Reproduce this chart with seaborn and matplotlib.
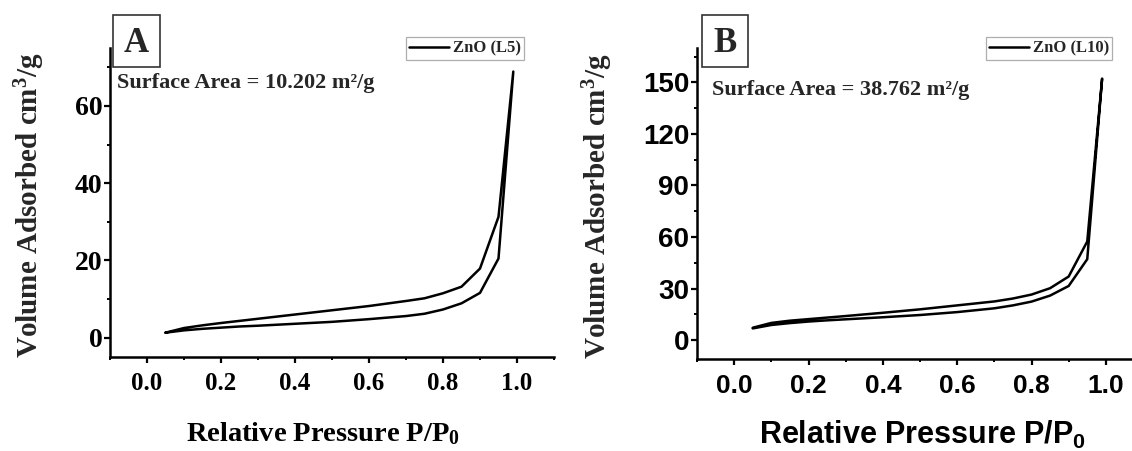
import matplotlib
matplotlib.use('Agg')
import matplotlib.pyplot as plt
import matplotlib.patches as patches
from matplotlib.ticker import MultipleLocator, FormatStrFormatter
import seaborn as sns
import pandas as pd

# relative pressure grid (adsorption up, desorption back down)
p_ads = [0.05, 0.1, 0.15, 0.2, 0.25, 0.3, 0.4, 0.5, 0.6, 0.7, 0.75, 0.8, 0.85, 0.9, 0.95, 0.99]
p_des = [0.99, 0.95, 0.9, 0.85, 0.8, 0.75, 0.7, 0.6, 0.5, 0.4, 0.3, 0.2, 0.15, 0.1, 0.05]

# ZnO (L5)
l5_ads = [1.3, 1.9, 2.3, 2.6, 2.9, 3.1, 3.6, 4.1, 4.8, 5.6, 6.2, 7.3, 8.9, 11.6, 20.5, 68.9]
l5_des = [68.9, 31.3, 17.9, 13.2, 11.5, 10.2, 9.5, 8.2, 7.1, 6.0, 4.9, 3.8, 3.2, 2.5, 1.3]

# ZnO (L10)
l10_ads = [6.8, 8.8, 9.9, 10.8, 11.5, 12.1, 13.3, 14.6, 16.3, 18.5, 20.2, 22.4, 25.9, 31.5, 47.1, 152.2]
l10_des = [152.2, 57.4, 37.0, 30.2, 26.5, 24.2, 22.5, 20.2, 17.9, 15.9, 14.0, 12.2, 11.3, 10.0, 7.2]

sns.set_theme(style='ticks')
plt.rcParams['mathtext.default'] = 'regular'

SERIF = 'Liberation Serif'
SANS = 'Liberation Sans'

fig = plt.figure(figsize=(11.32, 4.51), dpi=100)
W, H = 1132, 451


def px_axes(l, t, r, b):
    return fig.add_axes([l / W, 1 - b / H, (r - l) / W, (b - t) / H])


def loop(p1, v1, p2, v2):
    return pd.DataFrame({'p': p1 + p2, 'v': v1 + v2})


panels = [
    dict(df=loop(p_ads, l5_ads, p_des, l5_des), label='ZnO (L5)', box=(110, 48, 554, 357),
         ylim=(-5, 75), ymaj=20, ymin=10, tick_font=SERIF, xtick_size=18, ytick_size=20,
         xlab_font=SERIF, xlab_size=20.5, xlab_x=0.48, xlab_pad=18,
         letter='A', letter_box=(113, 15, 160, 67), area='Surface Area = 10.202 m²/g',
         area_xy=(117, 83), leg=(403, 38, 527, 59), ylab_x=30),
    dict(df=loop(p_ads, l10_ads, p_des, l10_des), label='ZnO (L10)', box=(697, 48, 1143, 359),
         ylim=(-11, 170), ymaj=30, ymin=15, tick_font=SANS, xtick_size=19, ytick_size=20,
         xlab_font=SANS, xlab_size=22, xlab_x=0.505, xlab_pad=15,
         letter='B', letter_box=(702, 15, 748, 67), area='Surface Area = 38.762 m²/g',
         area_xy=(712, 90), leg=(981, 38, 1117, 59), ylab_x=598),
]

for p in panels:
    ax = px_axes(*p['box'])
    sns.lineplot(data=p['df'], x='p', y='v', sort=False, estimator=None, color='black',
                 linewidth=1.8, label=p['label'], ax=ax)
    ax.set_xlim(-0.1, 1.1)
    ax.set_ylim(*p['ylim'])
    ax.xaxis.set_major_locator(MultipleLocator(0.2))
    ax.xaxis.set_minor_locator(MultipleLocator(0.1))
    ax.xaxis.set_major_formatter(FormatStrFormatter('%.1f'))
    ax.yaxis.set_major_locator(MultipleLocator(p['ymaj']))
    ax.yaxis.set_minor_locator(MultipleLocator(p['ymin']))
    ax.yaxis.set_major_formatter(FormatStrFormatter('%d'))

    for s in ['top', 'right']:
        ax.spines[s].set_visible(False)
    for s in ['left', 'bottom']:
        ax.spines[s].set_linewidth(1.8)
        ax.spines[s].set_color('black')
    ax.tick_params(which='major', direction='out', length=4, width=1.6, color='black',
                   labelfontfamily=p['tick_font'], labelcolor='black')
    ax.tick_params(which='minor', direction='out', length=2.5, width=1.4, color='black')
    ax.tick_params(axis='y', which='major', pad=1.5, labelsize=p['ytick_size'])
    ax.tick_params(axis='x', which='major', pad=7, labelsize=p['xtick_size'])
    for lab in ax.get_xticklabels() + ax.get_yticklabels():
        lab.set_fontweight('bold')
    ax.grid(False)

    ax.set_xlabel('Relative Pressure P/P$_0$', fontfamily=p['xlab_font'], fontweight='bold',
                  fontsize=p['xlab_size'], labelpad=p['xlab_pad'], color='black')
    ax.xaxis.label.set_x(p['xlab_x'])
    ax.set_ylabel('')

    # y label drawn as figure text
    bx = p['box']
    fig.text(p['ylab_x'] / W, 1 - ((bx[1] + bx[3]) / 2 + 3) / H, 'Volume Adsorbed cm$^3$/g',
             rotation=90, ha='center', va='center', fontfamily=SERIF, fontweight='bold',
             fontsize=21)

    # panel letter box
    lb = p['letter_box']
    fig.patches.append(patches.Rectangle((lb[0] / W, 1 - lb[3] / H), (lb[2] - lb[0]) / W,
                                         (lb[3] - lb[1]) / H, transform=fig.transFigure,
                                         fill=True, facecolor='white', edgecolor='#333333',
                                         linewidth=1.2, zorder=5))
    fig.text((lb[0] + lb[2]) / 2 / W, 1 - ((lb[1] + lb[3]) / 2 + 2) / H, p['letter'],
             ha='center', va='center', fontfamily=SERIF, fontweight='bold', fontsize=25,
             zorder=6)

    fig.text(p['area_xy'][0] / W, 1 - p['area_xy'][1] / H, p['area'], ha='left', va='center',
             fontfamily=SERIF, fontweight='bold', fontsize=16)

    lg = p['leg']
    leg = ax.legend(loc='center', bbox_to_anchor=((lg[0] + lg[2]) / 2 / W, 1 - (lg[1] + lg[3]) / 2 / H),
                    bbox_transform=fig.transFigure, frameon=True, fancybox=False,
                    prop={'family': SERIF, 'weight': 'bold', 'size': 12},
                    handlelength=2.4, handletextpad=0.2, borderpad=0.2, borderaxespad=0)
    leg.get_frame().set_edgecolor('#9a9a9a')
    leg.get_frame().set_linewidth(0.9)
    leg.get_lines()[0].set_linewidth(1.8)

fig.savefig('out.png', dpi=100, facecolor='white')
